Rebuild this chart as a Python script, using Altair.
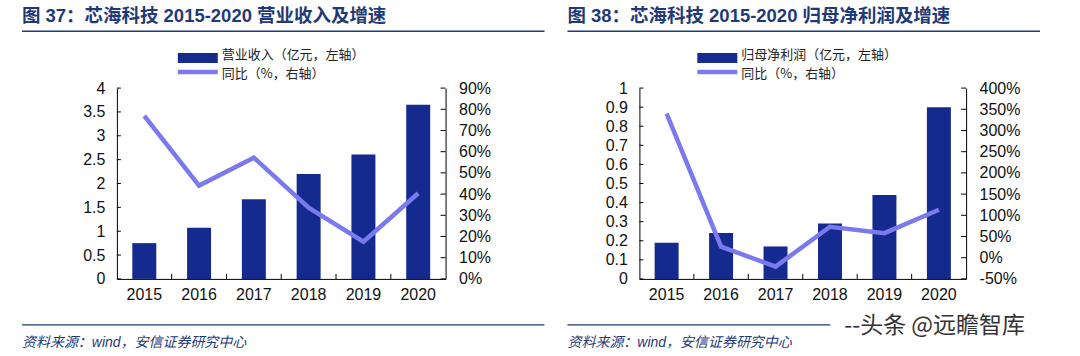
import altair as alt
import pandas as pd

years = ["2015", "2016", "2017", "2018", "2019", "2020"]
revenue = [0.75, 1.07, 1.67, 2.20, 2.61, 3.65]
revenue_yoy = [76.9, 44.0, 57.2, 33.6, 17.6, 40.4]
profit = [0.19, 0.24, 0.17, 0.29, 0.44, 0.90]
profit_yoy = [340, 26, -21, 73, 58, 113]

revenue_ticks = [0, 0.5, 1, 1.5, 2, 2.5, 3, 3.5, 4]
revenue_pct_ticks = [0, 10, 20, 30, 40, 50, 60, 70, 80, 90]
profit_ticks = [0, 0.1, 0.2, 0.3, 0.4, 0.5, 0.6, 0.7, 0.8, 0.9, 1]
profit_pct_ticks = [-50, 0, 50, 100, 150, 200, 250, 300, 350, 400]

NAVY = "#152A8E"
LAV = "#7B79EE"
TBLUE = "#1F3A78"
FONT = "Liberation Sans, Noto Sans CJK SC"
CJK = "Noto Sans CJK SC"


def one():
    return pd.DataFrame({"a": [0]})


def vtext(txt, x, y, size=14, color="#222222", weight="normal", style="normal", font=FONT):
    return alt.Chart(one()).mark_text(
        align="left", baseline="middle", fontSize=size, color=color,
        fontWeight=weight, fontStyle=style, font=font
    ).encode(x=alt.value(x), y=alt.value(y), text=alt.value(txt))


def vrule(x1, x2, y1, y2, color, width):
    return alt.Chart(one()).mark_rule(
        color=color, strokeWidth=width
    ).encode(x=alt.value(x1), x2=alt.value(x2), y=alt.value(y1), y2=alt.value(y2))


def panel(W, H, bl, br, title, bar_name, bars, yoy, bticks, pticks,
          leg_x, title_end, foot_end, watermark=False):
    df = pd.DataFrame({"year": years, "value": bars, "yoy": yoy})
    tx = bl + 22
    xenc = alt.X("year:N", title=None, sort=years,
                 scale=alt.Scale(paddingInner=0, paddingOuter=0),
                 axis=alt.Axis(labelFontSize=16, labelFont=FONT, labelColor="#111111",
                               labelAngle=0, ticks=False, domainColor="#000000",
                               labelPadding=8, zindex=2))
    bar_scale = alt.Scale(domain=[bticks[0], bticks[-1]], nice=False, zero=False)
    pct_scale = alt.Scale(domain=[pticks[0], pticks[-1]], nice=False, zero=False)
    left_axis = alt.Axis(orient="left", values=bticks, labelExpr="datum.value",
                         ticks=False, grid=False, domainColor="#000000",
                         labelFontSize=16, labelFont=FONT, labelColor="#111111",
                         labelPadding=12, zindex=2)
    right_axis = alt.Axis(orient="right", values=pticks,
                          labelExpr="datum.value + '%'",
                          ticks=False, grid=False, domainColor="#000000",
                          labelFontSize=16, labelFont=FONT, labelColor="#111111",
                          labelPadding=13, zindex=2)

    bg = alt.Chart(one()).mark_rect(color="white", opacity=0).encode(
        x=alt.value(bl), x2=alt.value(br), y=alt.value(-88), y2=alt.value(268))

    bar_layer = alt.Chart(df).mark_bar(size=24, color=NAVY).encode(
        x=xenc,
        y=alt.Y("value:Q", title=None, scale=bar_scale, axis=left_axis))
    lticks = alt.Chart(pd.DataFrame({"value": bticks})).mark_rule(color="#000000").encode(
        x=alt.value(0), x2=alt.value(4),
        y=alt.Y("value:Q", title=None, scale=bar_scale, axis=left_axis))
    left_group = alt.layer(bar_layer, lticks)

    line_layer = alt.Chart(df).mark_line(color=LAV, strokeWidth=4.5).encode(
        x=xenc,
        y=alt.Y("yoy:Q", title=None, scale=pct_scale, axis=right_axis))
    rticks = alt.Chart(pd.DataFrame({"yoy": pticks})).mark_rule(color="#000000").encode(
        x=alt.value(W - 5), x2=alt.value(W),
        y=alt.Y("yoy:Q", title=None, scale=pct_scale, axis=right_axis))
    right_group = alt.layer(line_layer, rticks)

    xticks = alt.Chart(pd.DataFrame({"year": years[1:]})).mark_rule(color="#000000").encode(
        x=alt.X("year:N", sort=years, bandPosition=0),
        y=alt.value(H - 5), y2=alt.value(H))

    deco = [
        vtext(title, tx, -72, size=18.5, color=TBLUE, weight="bold"),
        vrule(tx, title_end, -57, -57, TBLUE, 1.5),
        alt.Chart(one()).mark_rect(color=NAVY).encode(
            x=alt.value(leg_x), x2=alt.value(leg_x + 40), y=alt.value(-35), y2=alt.value(-25)),
        vtext(bar_name, leg_x + 44, -33, size=13, font=CJK),
        vrule(leg_x, leg_x + 40, -16, -16, LAV, 4.5),
        vtext("同比（%，右轴）", leg_x + 44, -14.5, size=13, font=CJK),
        vrule(tx, foot_end, 237, 237, TBLUE, 1.2),
        vtext("资料来源：wind，安信证券研究中心", tx, 255, size=14,
              color=TBLUE, style="italic"),
    ]
    if watermark:
        deco.append(vtext("--头条 @远瞻智库", 205, 238, size=23, color="#333333", font=CJK))

    return alt.layer(bg, left_group, right_group, xticks, *deco).resolve_scale(
        y="independent").properties(width=W, height=H)


p1 = panel(329, 191, -117, 428, "图 37：芯海科技 2015-2020 营业收入及增速",
           "营业收入（亿元，左轴）", revenue, revenue_yoy, revenue_ticks,
           revenue_pct_ticks, 61, 428, 428)
p2 = panel(327, 191, -94, 441, "图 38：芯海科技 2015-2020 归母净利润及增速",
           "归母净利润（亿元，左轴）", profit, profit_yoy, profit_ticks,
           profit_pct_ticks, 58, 401, 191, watermark=True)

chart = alt.hconcat(p1, p2, spacing=0).properties(padding=0).configure_view(stroke=None)
chart.save("out.html", embed_options={"renderer": "svg", "actions": False})
